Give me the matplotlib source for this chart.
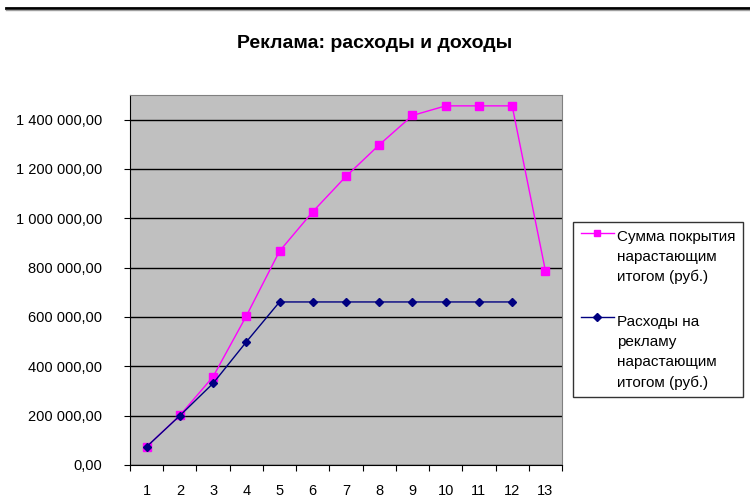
import matplotlib
matplotlib.use("Agg")
import matplotlib.pyplot as plt
from matplotlib.lines import Line2D
from matplotlib.ticker import FuncFormatter, FixedLocator

plt.rcParams['font.family'] = ['Liberation Sans', 'DejaVu Sans']

# данные
periods = list(range(1, 14))
pokrytie = [74000, 201000, 358000, 604000, 867000, 1027000, 1170000,
            1298000, 1417000, 1456000, 1456000, 1456000, 788000]
reklama_x = list(range(1, 13))
reklama = [74000, 200000, 331000, 499000, 661000, 661000, 661000,
           661000, 661000, 661000, 661000, 661000]

label1 = "Сумма покрытия\nнарастающим\nитогом (руб.)"
label2 = "Расходы на\nрекламу\nнарастающим\nитогом (руб.)"
title = "Реклама: расходы и доходы"

fig = plt.figure(figsize=(7.5, 4.97), dpi=100)
ax = fig.add_axes([130/750, 1-465/497, 432/750, 370/497])
ax.set_facecolor("#C0C0C0")

ax.plot(periods, pokrytie, color="#FF00FF", lw=1, marker="s", ms=6,
        mec="#FF00FF", label=label1, zorder=3)
ax.plot(reklama_x, reklama, color="#000080", lw=1, marker="D", ms=4,
        mec="#000080", label=label2, zorder=4)

ax.set_xlim(0.5, 13.5)
ax.set_ylim(0, 1500000)
ax.set_yticks(range(0, 1400001, 200000))
ax.yaxis.set_major_formatter(FuncFormatter(
    lambda v, p: f"{int(v):,}".replace(",", " ") + ",00"))
ax.yaxis.grid(True, color="black", lw=1)
ax.set_axisbelow(True)

# деления между категориями, подписи по центру
ax.xaxis.set_major_locator(FixedLocator([i + 0.5 for i in range(0, 14)]))
ax.xaxis.set_major_formatter(FuncFormatter(lambda v, p: ""))
ax.set_xticks(periods, [str(p) for p in periods], minor=True)
ax.tick_params(axis="x", which="minor", length=0, pad=14, labelsize=10.5)
ax.tick_params(axis="x", which="major", length=4, direction="out", color="black")
ax.tick_params(axis="y", length=4, direction="out", color="black",
               labelsize=10.5, pad=16, labelcolor="black")

for s in ["top", "right"]:
    ax.spines[s].set_color("#808080")
for s in ["left", "bottom"]:
    ax.spines[s].set_color("black")

fig.text(0.5, 1-43/497, title, ha="center", va="center",
         fontsize=14, fontweight="bold")

fs = 11
ls = 1.55
leg = ax.legend(loc="upper left", bbox_to_anchor=(573/750, 1-222/497),
                bbox_transform=fig.transFigure, frameon=True, fancybox=False,
                edgecolor="black", fontsize=fs, labelspacing=2.0,
                handlelength=2.2, handletextpad=0.2, borderpad=0.5,
                borderaxespad=0)
leg.get_frame().set_linewidth(1)
for t in leg.get_texts():
    t.set_linespacing(ls)
# маркер легенды — напротив первой строки подписи
for h, t in zip(leg.legend_handles, leg.get_texts()):
    h.set_markersize(4 if h.get_marker() == "D" else 5)
    n = t.get_text().count("\n")
    h.set_ydata(h.get_ydata() + n / 2 * ls * fs)

# линия сверху
fig.add_artist(Line2D([6/750, 1], [1-8/497, 1-8/497], color="black", lw=2))
fig.add_artist(Line2D([6/750, 1], [1-10/497, 1-10/497], color="#A0A0A0", lw=1))

fig.savefig("out.png", dpi=100)
